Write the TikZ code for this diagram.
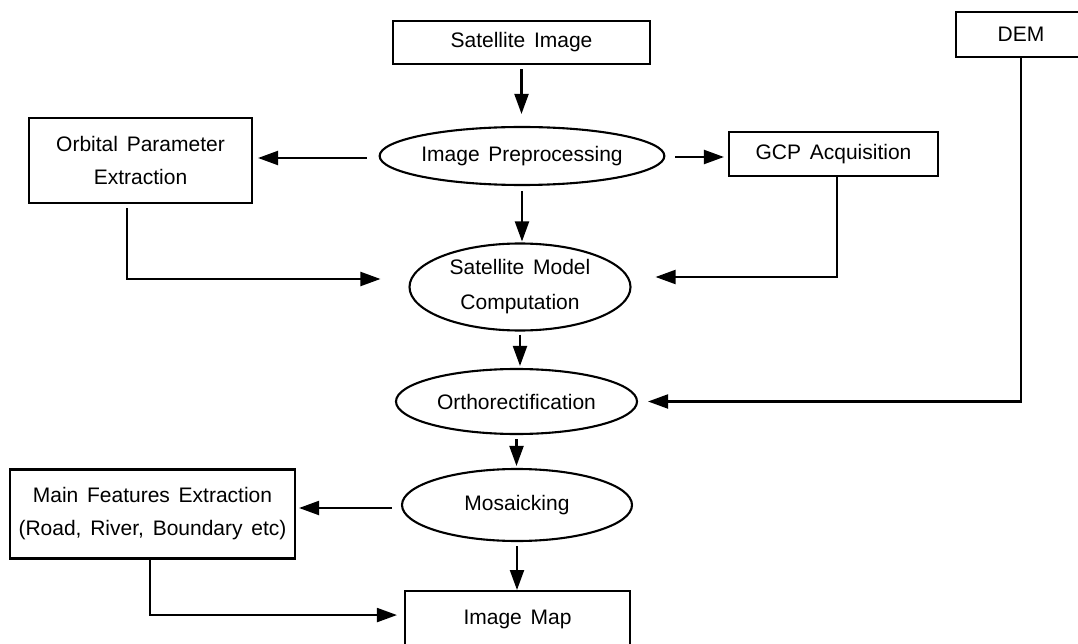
\documentclass[tikz,border=0pt]{standalone}
\usepackage{fontspec}
\setmainfont{Liberation Sans}[WordSpace=1.5]
\usetikzlibrary{shapes.geometric,arrows.meta,calc}
\tikzset{
  box/.style={draw, line width=2.1pt, rectangle, inner sep=0pt, align=center,
    font=\fontsize{21}{33}\selectfont},
  oval/.style={draw, line width=2.1pt, ellipse, inner sep=0pt, align=center,
    font=\fontsize{21}{35}\selectfont},
  arr/.style={line width=2.1pt, -{Triangle[length=20pt,width=14pt]}},
}
\begin{document}
\begin{tikzpicture}[x=1pt,y=-1pt]
\useasboundingbox (0,0) rectangle (1078,644);
\clip (0,0) rectangle (1078,644);
\fill[white] (0,0) rectangle (1078,644);

\node[box, minimum width=257pt, minimum height=43pt] (sat) at (521.5,42.5) {Satellite Image};
\node[box, minimum width=130pt, minimum height=45pt] (dem) at (1021,34.5) {DEM};
\node[box, minimum width=223pt, minimum height=85pt] (orb) at (140.5,160.5) {Orbital Parameter\\Extraction};
\node[oval, minimum width=241pt, minimum height=58pt] (pre) at (522,156) {Image Preprocessing};
\node[box, minimum width=209pt, minimum height=44pt] (gcp) at (833.5,154) {GCP Acquisition};
\node[oval, minimum width=221pt, minimum height=87pt] (model) at (520,287) {Satellite Model\\Computation};
\node[oval, minimum width=241pt, minimum height=65pt] (ortho) at (516.5,401.5) {Orthorectification};
\node[oval, minimum width=230pt, minimum height=72pt] (mosaic) at (517,505) {Mosaicking};
\node[box, minimum width=285pt, minimum height=89pt] (feat) at (152.5,514) {Main Features Extraction\\(Road, River, Boundary etc)};
\node[box, minimum width=225pt, minimum height=56pt, anchor=north] (map) at (517.5,590) {Image Map};

% central chain
\draw[arr, shorten <=4pt, shorten >=12pt] (sat.south) -- (sat.south |- pre.north);
\draw[arr, shorten <=5pt, shorten >=1pt] (pre.south) -- (pre.south |- model.north);
\draw[arr, shorten <=3pt, shorten >=2pt] (model.south) -- (model.south |- ortho.north);
\draw[arr, shorten <=4pt, shorten >=2pt] (ortho.south) -- (ortho.south |- mosaic.north);
\draw[arr, shorten <=4pt, shorten >=0pt] (mosaic.south) -- (mosaic.south |- map.north);

% side branches
\draw[arr, shorten <=12pt, shorten >=5pt] ([yshift=-2pt]pre.west) -- ([yshift=-2pt]pre.west -| orb.east);
\draw[arr, shorten <=10pt, shorten >=4pt] ([yshift=-1pt]pre.east) -- ([yshift=-1pt]pre.east -| gcp.west);
\draw[arr, shorten <=9pt, shorten >=3pt] ([yshift=-3pt]mosaic.west) -- ([yshift=-3pt]mosaic.west -| feat.east);

% feedback into model, ortho, map
\draw[arr, shorten <=4pt, shorten >=28pt] ([xshift=-13.5pt]orb.south) |- ([yshift=8pt]model.west);
\draw[arr, shorten >=24pt] ([xshift=3.5pt]gcp.south) |- ([yshift=10pt]model.east);
\draw[arr, shorten >=10pt] (dem.south) |- (ortho.east);
\draw[arr, shorten >=7pt] ([xshift=-2.5pt]feat.south) |- ([yshift=4pt]map.west);
\end{tikzpicture}
\end{document}
